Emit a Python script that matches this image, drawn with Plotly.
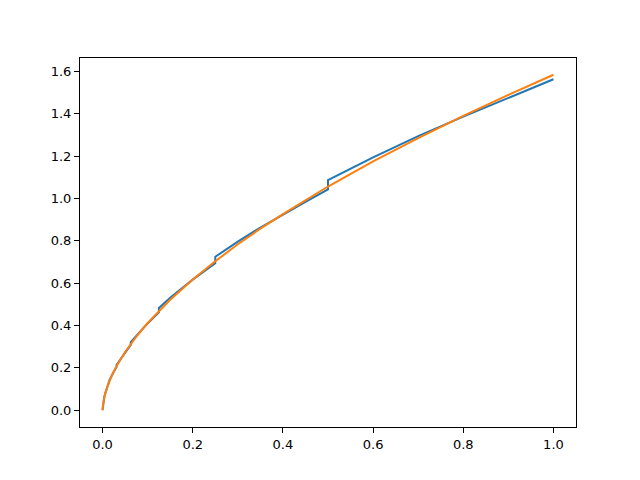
import plotly.graph_objects as go

# blue: piecewise curve with jumps at the dyadic points
blue_x = [0.0, 0.001953, 0.00293, 0.003906, 0.003906, 0.005859, 0.0078125,
          0.0078125, 0.01172, 0.015625, 0.015625, 0.02344, 0.03125,
          0.03125, 0.04688, 0.0625, 0.0625, 0.09375, 0.125,
          0.125, 0.15, 0.175, 0.2, 0.225, 0.25,
          0.25, 0.3, 0.35, 0.4, 0.45, 0.5,
          0.5, 0.6, 0.7, 0.8, 0.9, 1.0]
blue_y = [0.0, 0.0424, 0.0522, 0.0610, 0.0636, 0.0783, 0.0915,
          0.0954, 0.1175, 0.1373, 0.143, 0.176, 0.206,
          0.215, 0.264, 0.309, 0.322, 0.396, 0.463,
          0.483, 0.531, 0.576, 0.617, 0.656, 0.695,
          0.725, 0.797, 0.863, 0.925, 0.984, 1.043,
          1.087, 1.195, 1.295, 1.387, 1.476, 1.564]

# orange: smooth curve
orange_x = [0.0, 0.0002, 0.001, 0.005, 0.01, 0.02, 0.03, 0.05, 0.075, 0.1,
            0.15, 0.2, 0.25, 0.3, 0.35, 0.4, 0.45, 0.5, 0.6, 0.7, 0.8, 0.9, 1.0]
orange_y = [0.0, 0.0109, 0.0279, 0.0714, 0.107, 0.161, 0.204, 0.275, 0.348, 0.412,
            0.522, 0.618, 0.704, 0.784, 0.858, 0.927, 0.993, 1.057, 1.176, 1.286,
            1.391, 1.490, 1.585]

x_ticks = [0.0, 0.2, 0.4, 0.6, 0.8, 1.0]
y_ticks = [0.0, 0.2, 0.4, 0.6, 0.8, 1.0, 1.2, 1.4, 1.6]

fig = go.Figure()
fig.add_trace(go.Scatter(x=blue_x, y=blue_y, mode='lines',
                         line=dict(color='#1f77b4', width=2)))
fig.add_trace(go.Scatter(x=orange_x, y=orange_y, mode='lines',
                         line=dict(color='#ff7f0e', width=2)))

axis_style = dict(showline=True, linecolor='black', linewidth=1, mirror=True,
                  ticks='outside', ticklen=5, tickwidth=1, tickcolor='black',
                  showgrid=False, zeroline=False, tickformat='.1f',
                  tickfont=dict(family='DejaVu Sans', size=13, color='black'))

# page body has an 8px margin, so margins are shifted to compensate
fig.update_layout(
    width=640, height=480,
    margin=dict(l=72, r=72, t=50, b=61),
    paper_bgcolor='white', plot_bgcolor='white',
    showlegend=False,
    xaxis=dict(range=[-0.05, 1.05], tickvals=x_ticks, **axis_style),
    yaxis=dict(range=[-0.0793, 1.6643], tickvals=y_ticks, **axis_style),
)

fig.write_html("out.html")
